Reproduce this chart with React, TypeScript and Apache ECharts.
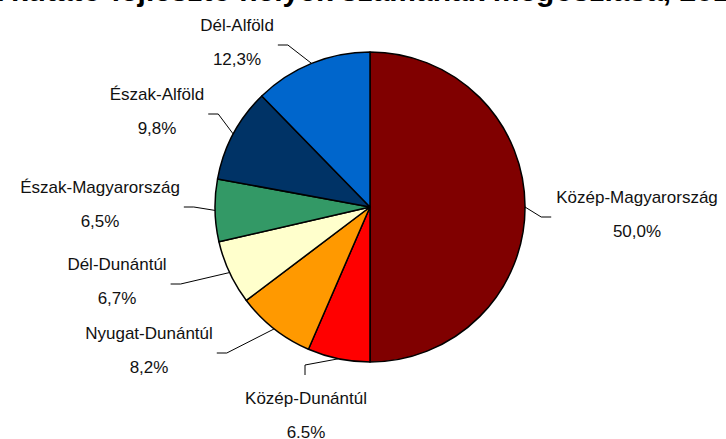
import React, { useEffect, useRef } from "react";
import * as echarts from "echarts";

const titleText = "A kutató-fejlesztő helyek számának megoszlása, 2010";
const categories = [
  "Közép-Magyarország",
  "Közép-Dunántúl",
  "Nyugat-Dunántúl",
  "Dél-Dunántúl",
  "Észak-Magyarország",
  "Észak-Alföld",
  "Dél-Alföld",
];
const values = [50.0, 6.5, 8.2, 6.7, 6.5, 9.8, 12.3];
const valueLabels = ["50,0%", "6.5%", "8,2%", "6,7%", "6,5%", "9,8%", "12,3%"];
const colors = ["#800000", "#FF0000", "#FF9900", "#FFFFCC", "#339966", "#003366", "#0066CC"];

// label block centres (layout only) and which side the leader line leaves from
const labelPos: [number, number][] = [
  [637, 214],
  [306, 415],
  [149, 350],
  [117, 281],
  [100, 204],
  [157, 111],
  [237, 42],
];
const labelSide = ["right", "bottom", "left", "left", "left", "left", "left"];

export default function App() {
  const ref = useRef<HTMLDivElement>(null);
  useEffect(() => {
    if (!ref.current) return;
    const chart = echarts.init(ref.current, undefined, { renderer: "svg" });
    const data = categories.map((name, i) => ({
      name,
      value: values[i],
      itemStyle: { color: colors[i] },
    }));
    chart.setOption({
      animation: false,
      backgroundColor: "#ffffff",
      graphic: [
        {
          type: "text",
          x: -18,
          y: -10,
          style: {
            text: titleText,
            font: 'bold 30px "Liberation Sans", Arial, sans-serif',
            fill: "#000000",
            verticalAlign: "middle",
            align: "left",
          },
        },
      ],
      series: [
        {
          type: "pie",
          center: [370, 207],
          radius: 155,
          startAngle: 90,
          clockwise: true,
          data,
          itemStyle: { borderColor: "#000000", borderWidth: 1.5 },
          label: {
            show: true,
            position: "outside",
            formatter: (p: any) => `${p.name}\n${valueLabels[p.dataIndex]}`,
            fontFamily: '"Liberation Sans", Arial, sans-serif',
            fontSize: 17,
            color: "#111111",
            lineHeight: 34,
            align: "center",
            overflow: "none",
          },
          labelLine: {
            show: true,
            length: 10,
            length2: 10,
            lineStyle: { color: "#000000", width: 1 },
          },
          emphasis: { disabled: true },
          labelLayout: (params: any) => {
            const i = params.dataIndex;
            const [lx, ly] = labelPos[i];
            const side = labelSide[i];
            const w = params.labelRect.width;
            const h = params.labelRect.height;
            const start = params.labelLinePoints ? params.labelLinePoints[0] : [lx, ly];
            let end: number[];
            let mid: number[];
            if (side === "left") {
              end = [lx + w / 2 + 4, ly + 3];
              mid = [end[0] + 10, end[1]];
            } else if (side === "right") {
              end = [lx - w / 2 - 5, ly + 3];
              mid = [end[0] - 10, end[1]];
            } else {
              end = [lx - 1, ly - h / 2 - 6];
              mid = [end[0], end[1] - 10];
            }
            return {
              x: lx,
              y: ly,
              align: "center",
              verticalAlign: "middle",
              labelLinePoints: [start, mid, end],
            };
          },
        },
      ],
    });
    return () => chart.dispose();
  }, []);
  return (
    <div
      ref={ref}
      style={{ position: "absolute", left: 0, top: 0, width: 726, height: 439 }}
    />
  );
}
